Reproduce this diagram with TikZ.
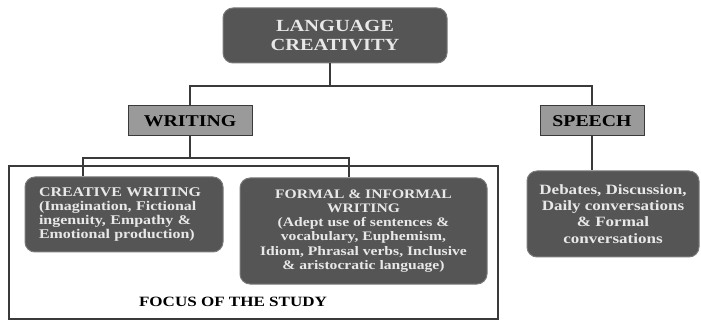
\documentclass[tikz,border=0pt]{standalone}
\usepackage{fontspec}
\setmainfont{Liberation Serif}[FakeStretch=1.2]
\definecolor{boxdark}{HTML}{555555}
\definecolor{boxedge}{HTML}{7A7A7A}
\definecolor{boxlight}{HTML}{9A9A9A}
\definecolor{linedark}{HTML}{3A3A3A}
\definecolor{txtlight}{HTML}{E8E8E8}
\tikzset{
  darkbox/.style={draw=boxedge, line width=1pt, fill=boxdark, rounded corners=10pt, text=txtlight, inner sep=0pt},
  lightbox/.style={draw=linedark, line width=1pt, fill=boxlight, text=black, inner sep=0pt},
  conn/.style={draw=linedark, line width=1.5pt},
}
\begin{document}
\begin{tikzpicture}[x=1pt,y=-1pt]
\useasboundingbox (0,0) rectangle (701,320);
\node[darkbox, minimum width=224pt, minimum height=55pt, align=center, font={\bfseries\fontsize{17}{19.5}\selectfont}] (top) at (335,35.5)
  {LANGUAGE\\CREATIVITY};
\node[lightbox, minimum width=124pt, minimum height=30pt, font={\bfseries\fontsize{16.5}{18}\selectfont}] (writing) at (190,121)
  {WRITING};
\node[lightbox, minimum width=104pt, minimum height=30pt, font={\bfseries\fontsize{16.5}{18}\selectfont}] (speech) at (592,121)
  {SPEECH};
\node[darkbox, minimum width=198pt, minimum height=75pt, align=left, text width=170pt, font={\bfseries\fontsize{13.3}{13.9}\selectfont}] (creative) at (124,214.5)
  {CREATIVE WRITING\\(Imagination, Fictional\\ingenuity, Empathy \&\\Emotional production)};
\node[darkbox, minimum width=247pt, minimum height=106pt, align=center, font={\bfseries\fontsize{13}{14.2}\selectfont}] (formal) at (363.5,231)
  {FORMAL \& INFORMAL\\WRITING\\(Adept use of sentences \&\\vocabulary, Euphemism,\\Idiom, Phrasal verbs, Inclusive\\\& aristocratic language)};
\node[darkbox, minimum width=172pt, minimum height=86pt, align=center, font={\bfseries\fontsize{14.2}{16.2}\selectfont}] (speechbox) at (613,214)
  {Debates, Discussion,\\Daily conversations\\\& Formal\\conversations};
\node[draw=linedark, line width=1.5pt, minimum width=489pt, minimum height=153pt, inner sep=0pt] (focus) at (253.5,242.5) {};
\node[font={\bfseries\fontsize{14.2}{15}\selectfont}, text=black] (focuslabel) at (233,302) {FOCUS OF THE STUDY};
\coordinate (b1) at (0,86);
\coordinate (b2) at (0,158);
\draw[conn] ([xshift=-5pt]top.south) -- ([xshift=-5pt]top.south |- b1);
\draw[conn] (writing.north) -- (writing.north |- b1) -- (speech.north |- b1) -- (speech.north);
\draw[conn] (writing.south) -- (writing.south |- b2);
\draw[conn] ([xshift=-41pt]creative.north) -- ([xshift=-41pt]creative.north |- b2) -- ([xshift=-14.5pt]formal.north |- b2) -- ([xshift=-14.5pt]formal.north);
\draw[conn] (speech.south) -- (speech.south |- speechbox.north);
\end{tikzpicture}
\end{document}
